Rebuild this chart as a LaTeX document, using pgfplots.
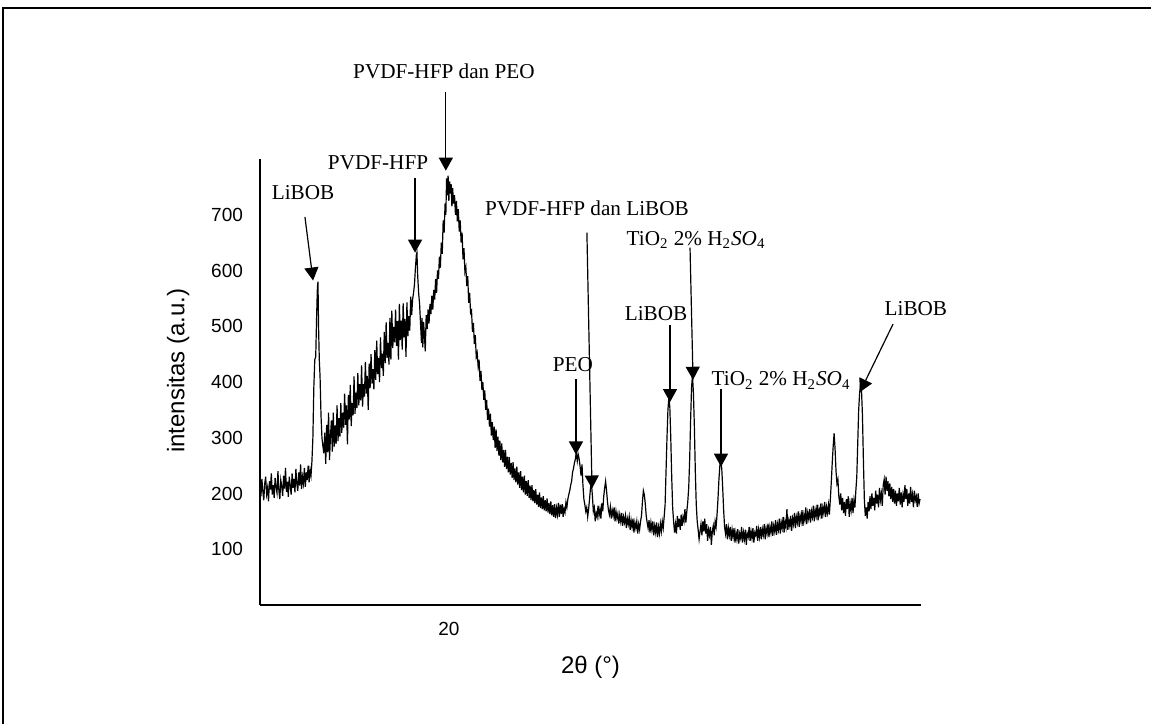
\documentclass[border=0pt]{standalone}
\usepackage{fontspec}
\setmainfont{Liberation Serif}
\newfontfamily\arial{Liberation Sans}
\usepackage{pgfplots}
\pgfplotsset{compat=1.18}
\usetikzlibrary{arrows.meta}

\newcommand{\annot}{\fontsize{10.6}{12}\selectfont}
\newcommand{\tio}{TiO\textsubscript{2} 2\% H\textsubscript{2}\textit{SO}\textsubscript{4}}
\tikzset{arr/.style={-{Triangle[width=7pt,length=6.5pt]}, line width=0.6pt}}

\begin{document}
\begin{tikzpicture}
\path[use as bounding box] (0pt,0pt) rectangle (575.5pt,362pt);
\draw[line width=1pt] (1.5pt,0pt) -- (1.5pt,358pt) -- (575.5pt,358pt);
\begin{axis}[
  at={(130pt,59.5pt)}, anchor=south west,
  scale only axis, width=330.5pt, height=223pt,
  xmin=10, xmax=45, ymin=0, ymax=800,
  axis x line=bottom, axis y line=left,
  axis line style={-, line width=0.6pt},
  xtick={20}, ytick={100,200,300,400,500,600,700},
  major tick length=0pt,
  /pgf/number format/assume math mode=true,
  tick label style={font=\arial\fontsize{9.5}{11}\selectfont},
  yticklabel style={xshift=-5pt},
  xticklabel style={yshift=-5pt},
  xlabel={2θ (°)}, ylabel={intensitas (a.u.)},
  label style={font=\arial\fontsize{12}{14}\selectfont},
  x label style={at={(axis description cs:0.5,-0.139)}, anchor=center},
  y label style={at={(axis description cs:-0.124,0.525)}, anchor=center},
  clip=false,
]
\addplot[black, line width=0.6pt, mark=none] table {
x y
10.00 212
10.05 195
10.10 226
10.15 204
10.20 188
10.25 218
10.30 230
10.35 199
10.40 210
10.45 186
10.50 222
10.55 207
10.60 236
10.65 198
10.70 215
10.75 192
10.80 228
10.85 211
10.90 201
10.95 240
11.00 205
11.05 190
11.10 224
11.15 213
11.20 196
11.25 232
11.30 209
11.35 246
11.40 203
11.45 221
11.50 194
11.55 230
11.60 215
11.65 198
11.70 236
11.75 210
11.80 226
11.85 202
11.90 244
11.95 217
12.00 205
12.05 238
12.10 214
12.15 252
12.20 208
12.25 230
12.30 218
12.35 246
12.40 212
12.45 238
12.50 224
12.55 250
12.60 220
12.65 242
12.70 232
12.75 258
12.80 300
12.85 390
12.90 440
12.95 445
13.00 520
13.04 570
13.07 580
13.10 500
13.14 440
13.18 410
13.23 340
13.28 300
13.33 285
13.38 272
13.43 309
13.48 253
13.53 323
13.58 274
13.63 345
13.68 260
13.73 302
13.78 331
13.83 275
13.88 345
13.93 284
13.98 322
14.03 289
14.08 358
14.13 294
14.18 335
14.23 302
14.28 362
14.33 309
14.38 345
14.43 318
14.48 379
14.53 323
14.58 358
14.63 288
14.68 377
14.73 333
14.78 395
14.83 321
14.88 362
14.93 340
14.98 410
15.03 343
15.08 381
15.13 353
15.18 416
15.23 358
15.28 396
15.33 367
15.38 430
15.43 356
15.48 396
15.53 374
15.58 436
15.63 379
15.68 411
15.73 350
15.78 433
15.83 389
15.88 450
15.93 397
15.98 423
16.03 387
16.08 457
16.13 404
16.18 474
16.23 414
16.28 443
16.33 400
16.38 480
16.43 425
16.48 451
16.53 411
16.58 490
16.63 434
16.68 507
16.73 443
16.78 470
16.83 431
16.88 515
16.93 440
16.98 528
17.03 461
17.08 499
17.13 471
17.18 530
17.23 465
17.28 509
17.33 440
17.38 540
17.43 475
17.48 510
17.53 458
17.58 541
17.63 480
17.68 513
17.73 445
17.78 543
17.83 482
17.88 518
17.93 492
17.98 553
18.03 520
18.08 548
18.13 560
18.18 575
18.23 605
18.28 628
18.31 632
18.35 590
18.40 560
18.45 540
18.50 505
18.55 470
18.58 515
18.62 462
18.66 508
18.70 488
18.75 455
18.80 520
18.85 495
18.90 530
18.95 505
19.00 540
19.05 522
19.10 555
19.15 530
19.20 565
19.25 548
19.30 585
19.35 560
19.40 600
19.45 585
19.50 625
19.55 605
19.60 650
19.65 630
19.70 690
19.75 668
19.80 720
19.84 700
19.88 765
19.92 735
19.96 770
20.00 725
20.04 760
20.08 738
20.12 755
20.16 715
20.20 748
20.25 720
20.30 735
20.35 700
20.40 725
20.45 688
20.50 710
20.55 670
20.60 690
20.65 650
20.70 668
20.75 620
20.80 640
20.85 598
20.90 606
20.95 572
21.00 590
21.05 542
21.10 560
21.15 524
21.20 528
21.25 490
21.30 506
21.35 468
21.40 484
21.45 445
21.50 452
21.55 428
21.60 440
21.65 402
21.70 420
21.75 386
21.80 400
21.85 368
21.90 385
21.95 350
22.00 368
22.05 332
22.10 352
22.15 320
22.20 343
22.25 304
22.30 328
22.35 296
22.40 320
22.45 282
22.50 315
22.55 276
22.60 302
22.65 268
22.70 295
22.75 260
22.80 290
22.85 256
22.90 278
22.95 248
23.00 278
23.05 244
23.10 266
23.15 238
23.20 265
23.25 234
23.30 255
23.35 228
23.40 256
23.45 224
23.50 245
23.55 220
23.60 248
23.65 216
23.70 238
23.75 210
23.80 240
23.85 206
23.90 230
23.95 202
24.00 232
24.05 198
24.10 222
24.15 196
24.20 224
24.25 192
24.30 214
24.35 188
24.40 215
24.45 186
24.50 206
24.55 183
24.60 208
24.65 180
24.70 198
24.75 176
24.80 202
24.85 174
24.90 193
24.95 172
25.00 195
25.05 170
25.10 188
25.15 168
25.20 191
25.25 166
25.30 183
25.35 163
25.40 186
25.45 161
25.50 179
25.55 158
25.60 181
25.65 156
25.70 174
25.75 162
25.80 183
25.85 158
25.90 180
25.95 163
26.00 181
26.05 158
26.10 173
26.15 166
26.20 184
26.25 175
26.30 190
26.35 198
26.40 205
26.45 215
26.50 222
26.55 238
26.60 245
26.65 255
26.70 262
26.75 275
26.80 258
26.85 270
26.90 262
26.95 248
27.00 232
27.05 252
27.10 215
27.15 190
27.20 180
27.25 168
27.30 175
27.35 158
27.40 172
27.45 190
27.50 210
27.55 218
27.60 196
27.65 168
27.70 175
27.75 150
27.80 165
27.85 158
27.90 178
27.95 160
28.00 172
28.05 155
28.10 182
28.15 168
28.20 195
28.25 210
28.30 222
28.35 205
28.40 185
28.45 170
28.50 162
28.55 176
28.60 155
28.65 170
28.70 160
28.75 175
28.80 150
28.85 168
28.90 155
28.95 164
29.00 146
29.05 162
29.10 150
29.15 165
29.20 142
29.25 158
29.30 148
29.35 160
29.40 138
29.45 155
29.50 145
29.55 158
29.60 135
29.65 152
29.70 140
29.75 155
29.80 130
29.85 148
29.90 138
29.95 150
30.00 128
30.05 145
30.10 135
30.15 150
30.20 160
30.25 185
30.30 205
30.35 198
30.40 182
30.45 160
30.50 148
30.55 138
30.60 152
30.65 130
30.70 148
30.75 135
30.80 150
30.85 125
30.90 142
30.95 130
31.00 148
31.05 122
31.10 140
31.15 128
31.20 146
31.25 132
31.30 150
31.35 138
31.40 158
31.45 180
31.50 240
31.55 300
31.60 350
31.65 372
31.70 355
31.75 300
31.80 230
31.85 175
31.90 150
31.95 130
32.00 145
32.05 128
32.10 160
32.15 140
32.20 155
32.25 135
32.30 162
32.35 142
32.40 158
32.45 150
32.50 172
32.55 148
32.60 168
32.65 185
32.70 210
32.75 260
32.80 330
32.85 390
32.90 412
32.95 380
33.00 320
33.05 240
33.10 180
33.15 150
33.20 135
33.25 118
33.30 132
33.35 145
33.40 125
33.45 150
33.50 132
33.55 155
33.60 128
33.65 145
33.70 115
33.75 135
33.80 125
33.85 140
33.90 108
33.95 132
34.00 142
34.05 125
34.10 150
34.15 140
34.20 162
34.25 190
34.30 225
34.35 250
34.40 258
34.45 245
34.50 210
34.55 170
34.60 140
34.65 128
34.70 145
34.75 118
34.80 138
34.85 125
34.90 140
34.95 115
35.00 135
35.05 122
35.10 138
35.15 112
35.20 130
35.25 118
35.30 136
35.35 110
35.40 128
35.45 120
35.50 140
35.55 112
35.60 130
35.65 118
35.70 135
35.75 108
35.80 128
35.85 122
35.90 140
35.95 115
36.00 132
36.05 120
36.10 138
36.15 112
36.20 130
36.25 125
36.30 142
36.35 115
36.40 135
36.45 122
36.50 140
36.55 118
36.60 136
36.65 126
36.70 145
36.75 118
36.80 138
36.85 128
36.90 146
36.95 122
37.00 140
37.05 130
37.10 150
37.15 124
37.20 142
37.25 132
37.30 152
37.35 126
37.40 145
37.45 135
37.50 155
37.55 128
37.60 148
37.65 138
37.70 158
37.75 130
37.80 150
37.85 140
37.90 172
37.95 135
38.00 152
38.05 142
38.10 160
38.15 133
38.20 155
38.25 145
38.30 165
38.35 138
38.40 158
38.45 148
38.50 168
38.55 140
38.60 160
38.65 150
38.70 170
38.75 142
38.80 162
38.85 152
38.90 175
38.95 145
39.00 165
39.05 155
39.10 172
39.15 148
39.20 168
39.25 158
39.30 178
39.35 150
39.40 170
39.45 160
39.50 180
39.55 152
39.60 172
39.65 162
39.70 182
39.75 155
39.80 175
39.85 165
39.90 185
39.95 158
40.00 176
40.05 165
40.10 180
40.15 162
40.20 190
40.25 220
40.30 255
40.35 285
40.40 308
40.45 280
40.50 240
40.55 218
40.60 225
40.65 195
40.70 180
40.75 200
40.80 170
40.85 192
40.90 165
40.95 185
41.00 160
41.05 190
41.10 172
41.15 195
41.20 158
41.25 182
41.30 170
41.35 192
41.40 165
41.45 188
41.50 175
41.55 205
41.60 230
41.65 290
41.70 350
41.75 380
41.80 395
41.85 385
41.90 340
41.95 260
42.00 190
42.05 160
42.10 175
42.15 155
42.20 185
42.25 168
42.30 195
42.35 172
42.40 200
42.45 178
42.50 192
42.55 170
42.60 205
42.65 182
42.70 198
42.75 175
42.80 210
42.85 188
42.90 200
42.95 178
43.00 215
43.05 225
43.10 198
43.15 230
43.20 205
43.25 222
43.30 195
43.35 218
43.40 190
43.45 212
43.50 185
43.55 208
43.60 182
43.65 205
43.70 178
43.75 200
43.80 186
43.85 210
43.90 180
43.95 202
44.00 175
44.05 198
44.10 185
44.15 215
44.20 190
44.25 208
44.30 178
44.35 200
44.40 182
44.45 212
44.50 185
44.55 198
44.60 175
44.65 205
44.70 188
44.75 195
44.80 176
44.85 200
44.90 182
44.95 190
};
% annotations
\node[font=\annot] at (axis cs:12.28,739) {LiBOB};
\draw[arr] (axis cs:12.38,696) -- (axis cs:12.81,582);
\node[font=\annot] at (axis cs:16.25,793) {PVDF-HFP};
\draw[arr] (axis cs:18.21,766) -- (axis cs:18.21,632);
\node[font=\annot] at (axis cs:19.74,957) {PVDF-HFP dan PEO};
\draw[arr] (axis cs:19.84,921) -- (axis cs:19.84,779);
\node[font=\annot] at (axis cs:27.31,712) {PVDF-HFP dan LiBOB};
\draw[arr] (axis cs:27.31,668) -- (axis cs:27.58,209);
\node[font=\annot] at (axis cs:33.09,655) {\tio};
\draw[arr] (axis cs:32.77,641) -- (axis cs:32.93,404);
\node[font=\annot] at (axis cs:30.97,523) {LiBOB};
\draw[arr] (axis cs:31.71,502) -- (axis cs:31.71,364);
\node[font=\annot] at (axis cs:26.57,432) {PEO};
\draw[arr] (axis cs:26.73,405) -- (axis cs:26.73,270);
\node[font=\annot] at (axis cs:37.59,403) {\tio};
\draw[arr] (axis cs:34.41,387) -- (axis cs:34.41,248);
\node[font=\annot] at (axis cs:44.73,532) {LiBOB};
\draw[arr] (axis cs:43.52,504) -- (axis cs:41.77,382);
\end{axis}
\end{tikzpicture}
\end{document}
